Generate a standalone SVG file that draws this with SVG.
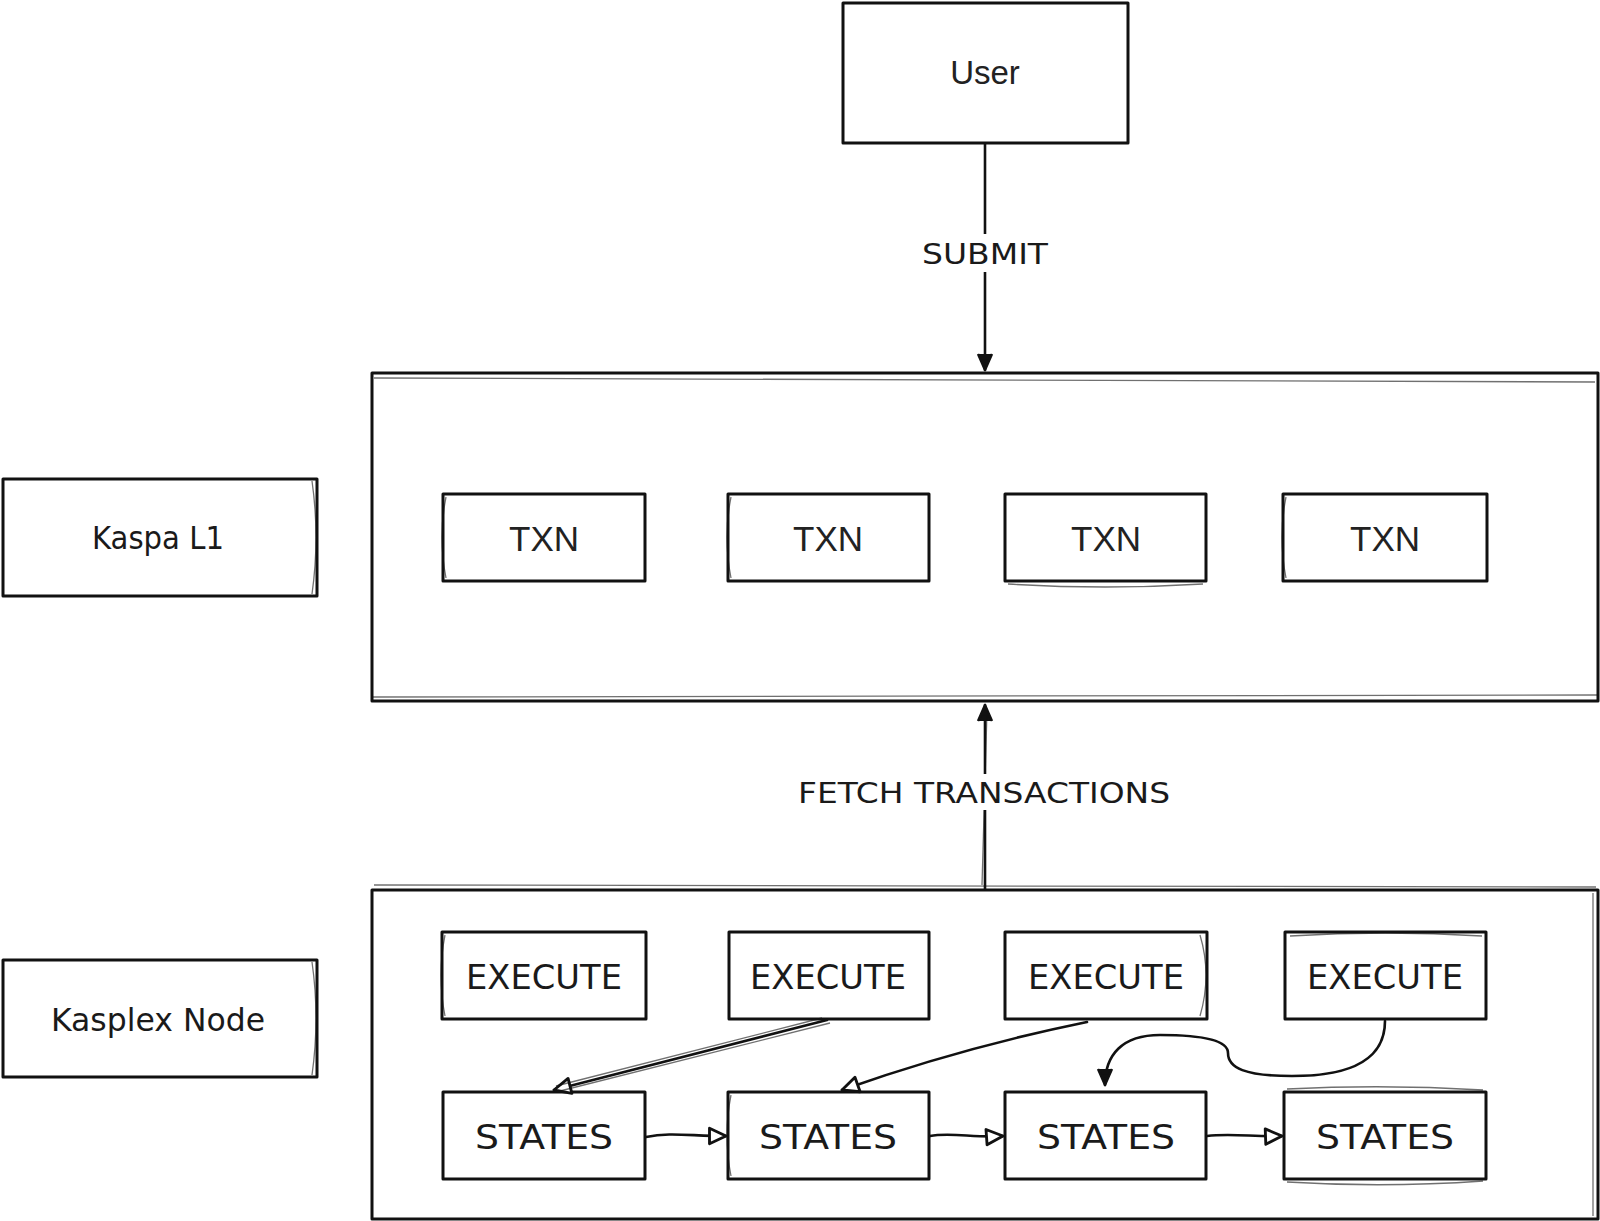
<svg xmlns="http://www.w3.org/2000/svg" width="1600" height="1221" viewBox="0 0 1600 1221">
<style>
.box{fill:#fff;stroke:#111;stroke-width:3;stroke-linejoin:round}
.sk{fill:none;stroke:#111;stroke-width:1.3;opacity:0.6}
.t{font-family:"Liberation Sans",Arial,sans-serif;fill:#222;text-anchor:middle;dominant-baseline:central}
.h{font-family:"DejaVu Sans","Liberation Sans",sans-serif;fill:#1a1a1a;text-anchor:middle;dominant-baseline:central}
.e{fill:none;stroke:#111;stroke-width:2.6;stroke-linecap:round}
.lbl{fill:#fff;stroke:none}
</style>
<defs>
<marker id="vee" viewBox="0 0 20 20" refX="18" refY="10" markerWidth="20" markerHeight="20" markerUnits="userSpaceOnUse" orient="auto">
<path d="M2,3 L18,10 L2,17 M9,7 L18,10 L9,13 Z" fill="#111" stroke="#111" stroke-width="2.4" stroke-linejoin="round"/>
</marker>
<marker id="tri" viewBox="0 0 20 20" refX="18" refY="10" markerWidth="22" markerHeight="22" markerUnits="userSpaceOnUse" orient="auto">
<path d="M3,3 L18,10 L3,17 Z" fill="#fff" stroke="#111" stroke-width="2.6" stroke-linejoin="round"/>
</marker>
</defs>

<g id="containers">
<g id="kaspa-container"><rect class="box" x="372" y="373" width="1226" height="328"/><path class="sk" d="M374,378 L1595,382 M372,697 L1597,695"/></g>
<g id="kasplex-container"><rect class="box" x="372" y="890" width="1226" height="329"/><path class="sk" d="M374,885 L1596,887 M1593,893 L1593,1216"/></g>
</g>

<g id="user"><rect class="box" x="843" y="3" width="285" height="140"/><text class="t" x="985" y="72" font-size="33">User</text></g>

<g id="kaspa-l1"><rect class="box" x="3" y="479" width="314" height="117"/><path class="sk" d="M312,481 Q320,537 312,594"/><text class="h" x="158" y="538" font-size="32" textLength="132" lengthAdjust="spacingAndGlyphs">Kaspa L1</text></g>
<g id="kasplex-node"><rect class="box" x="3" y="960" width="314" height="117"/><path class="sk" d="M312,962 Q320,1018 312,1075"/><text class="h" x="158" y="1020" font-size="32" textLength="214" lengthAdjust="spacingAndGlyphs">Kasplex Node</text></g>

<g id="txn1"><rect class="box" x="443" y="494" width="202" height="87"/><path class="sk" d="M446,497 Q438,537 446,578"/><text class="t" x="544" y="538" font-size="35">TXN</text></g>
<g id="txn2"><rect class="box" x="728" y="494" width="201" height="87"/><path class="sk" d="M731,497 Q723,537 731,578"/><text class="t" x="828" y="538" font-size="35">TXN</text></g>
<g id="txn3"><rect class="box" x="1005" y="494" width="201" height="87"/><path class="sk" d="M1008,584 Q1105,590 1203,584"/><text class="t" x="1106" y="538" font-size="35">TXN</text></g>
<g id="txn4"><rect class="box" x="1283" y="494" width="204" height="87"/><path class="sk" d="M1286,497 Q1278,537 1286,578"/><text class="t" x="1385" y="538" font-size="35">TXN</text></g>

<g id="execute1"><rect class="box" x="442" y="932" width="204" height="87"/><path class="sk" d="M445,935 Q437,975 445,1016"/><text class="h" x="544" y="977" font-size="33" textLength="156" lengthAdjust="spacingAndGlyphs">EXECUTE</text></g>
<g id="execute2"><rect class="box" x="729" y="932" width="200" height="87"/><text class="h" x="828" y="977" font-size="33" textLength="156" lengthAdjust="spacingAndGlyphs">EXECUTE</text></g>
<g id="execute3"><rect class="box" x="1005" y="932" width="202" height="87"/><path class="sk" d="M1200,935 Q1212,975 1200,1016"/><text class="h" x="1106" y="977" font-size="33" textLength="156" lengthAdjust="spacingAndGlyphs">EXECUTE</text></g>
<g id="execute4"><rect class="box" x="1285" y="932" width="201" height="87"/><path class="sk" d="M1290,936 Q1385,930 1482,936"/><text class="h" x="1385" y="977" font-size="33" textLength="156" lengthAdjust="spacingAndGlyphs">EXECUTE</text></g>

<g id="states1"><rect class="box" x="443" y="1092" width="202" height="87"/><text class="h" x="544" y="1137" font-size="33" textLength="138" lengthAdjust="spacingAndGlyphs">STATES</text></g>
<g id="states2"><rect class="box" x="728" y="1092" width="201" height="87"/><path class="sk" d="M731,1095 Q723,1135 731,1176"/><text class="h" x="828" y="1137" font-size="33" textLength="138" lengthAdjust="spacingAndGlyphs">STATES</text></g>
<g id="states3"><rect class="box" x="1005" y="1092" width="201" height="87"/><text class="h" x="1106" y="1137" font-size="33" textLength="138" lengthAdjust="spacingAndGlyphs">STATES</text></g>
<g id="states4"><rect class="box" x="1284" y="1092" width="202" height="87"/><path class="sk" d="M1287,1089 Q1385,1084 1483,1090 M1287,1182 Q1385,1188 1483,1181"/><text class="h" x="1385" y="1137" font-size="33" textLength="138" lengthAdjust="spacingAndGlyphs">STATES</text></g>

<g id="connectors">
<path class="e" d="M985,144 L985,370" marker-end="url(#vee)"/>
<rect class="lbl" x="915" y="234" width="140" height="38"/>
<text class="h" x="985" y="254" font-size="28" textLength="126" lengthAdjust="spacingAndGlyphs">SUBMIT</text>

<path class="e" d="M985,889 L985,705" marker-end="url(#vee)"/>
<path class="sk" d="M982,885 L987,710"/>
<rect class="lbl" x="792" y="774" width="384" height="36"/>
<text class="h" x="984" y="793" font-size="28" textLength="372" lengthAdjust="spacingAndGlyphs">FETCH TRANSACTIONS</text>

<path class="e" d="M827,1020 L554,1090" marker-end="url(#tri)"/>
<path class="sk" d="M822,1018 L556,1086 M830,1023 L560,1091" stroke-width="1.8"/>
<path class="e" d="M1087,1022 Q960,1048 842,1090" marker-end="url(#tri)"/>
<path class="e" d="M1385,1021 C1385,1068 1335,1076 1292,1076 C1245,1076 1228,1068 1228,1053 C1228,1040 1200,1035 1160,1035 C1122,1035 1105,1055 1105,1085" marker-end="url(#vee)"/>
<path class="e" d="M646,1137 C670,1132 690,1136 726,1136" marker-end="url(#tri)"/>
<path class="e" d="M930,1136 C950,1132 975,1138 1003,1136" marker-end="url(#tri)"/>
<path class="e" d="M1207,1136 C1230,1133 1255,1137 1282,1136" marker-end="url(#tri)"/>
</g>
</svg>
